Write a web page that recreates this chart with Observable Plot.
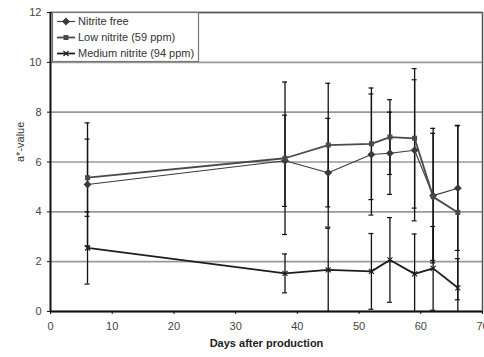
<!DOCTYPE html>
<html>
<head>
<meta charset="utf-8">
<script src="https://cdn.jsdelivr.net/npm/d3@7"></script>
<script src="https://cdn.jsdelivr.net/npm/@observablehq/plot@0.6"></script>
<style>
  html, body { margin: 0; padding: 0; background: #fff; }
  #chart { position: relative; width: 484px; height: 357px; }
</style>
</head>
<body>
<div id="chart"></div>
<script>
const days = [6, 38, 45, 52, 55, 59, 62, 66];
const seriesNames = ["Nitrite free", "Low nitrite (59 ppm)", "Medium nitrite (94 ppm)"];
const nitriteFree = [5.1, 6.05, 5.57, 6.3, 6.35, 6.47, 4.65, 4.95];
const nitriteFreeErr = [2.47, 1.83, 2.18, 2.43, 1.65, 2.83, 2.7, 2.5];
const lowNitrite = [5.37, 6.15, 6.68, 6.73, 7.0, 6.95, 4.6, 3.97];
const lowNitriteErr = [1.55, 3.06, 2.48, 2.24, 1.5, 2.8, 2.55, 3.5];
const mediumNitrite = [2.55, 1.53, 1.67, 1.61, 2.07, 1.51, 1.73, 0.95];
const mediumNitriteErr = [1.45, 0.78, 1.67, 1.52, 1.7, 1.6, 1.68, 1.17];
const xTicks = [0, 10, 20, 30, 40, 50, 60, 70];
const yTicks = [0, 2, 4, 6, 8, 10, 12];

const valuesList = [nitriteFree, lowNitrite, mediumNitrite];
const errList = [nitriteFreeErr, lowNitriteErr, mediumNitriteErr];
const rows = [];
seriesNames.forEach((s, si) => {
  days.forEach((d, i) => {
    rows.push({series: s, day: d, value: valuesList[si][i], err: errList[si][i]});
  });
});
const styleOf = {
  "Nitrite free": {stroke: "#3a3a3a", width: 1.1, symbol: "diamond2", r: 2.8},
  "Low nitrite (59 ppm)": {stroke: "#4a4a4a", width: 1.8, symbol: "square2", r: 2.4},
  "Medium nitrite (94 ppm)": {stroke: "#1e1e1e", width: 1.8, symbol: "times", r: 2.4}
};

const lineMarks = seriesNames.map(s => Plot.line(rows.filter(r => r.series === s), {
  x: "day", y: "value", stroke: styleOf[s].stroke, strokeWidth: styleOf[s].width, clip: true
}));
const dotMarks = seriesNames.map(s => Plot.dot(rows.filter(r => r.series === s), {
  x: "day", y: "value", symbol: styleOf[s].symbol, r: styleOf[s].r,
  fill: styleOf[s].stroke, stroke: styleOf[s].stroke, strokeWidth: 1.2
}));

const chart = Plot.plot({
  width: 484,
  height: 357,
  marginLeft: 50,
  marginRight: 2,
  marginTop: 12,
  marginBottom: 46,
  style: {fontFamily: "'Liberation Sans', Arial, sans-serif", fontSize: "11px", color: "#333", background: "#fff", overflow: "visible"},
  x: {domain: [0, 70], label: null},
  y: {domain: [0, 12], label: null},
  marks: [
    Plot.gridY(yTicks, {stroke: "#999", strokeOpacity: 1, strokeWidth: 1.6}),
    Plot.ruleY([12], {stroke: "#555", strokeWidth: 1.5}),
    Plot.ruleX([70], {stroke: "#555", strokeWidth: 1.5}),
    Plot.ruleX(rows, {x: "day", y1: d => d.value - d.err, y2: d => d.value + d.err, stroke: "#111", strokeWidth: 1.3, clip: true}),
    Plot.ruleY(rows, {x1: "day", x2: "day", y: d => d.value + d.err, insetLeft: -2.5, insetRight: -2.5, stroke: "#111", strokeWidth: 1.2, clip: true}),
    Plot.ruleY(rows, {x1: "day", x2: "day", y: d => d.value - d.err, insetLeft: -2.5, insetRight: -2.5, stroke: "#111", strokeWidth: 1.2, clip: true}),
    ...lineMarks,
    ...dotMarks,
    Plot.ruleX([0], {stroke: "#111", strokeWidth: 2}),
    Plot.ruleY([0], {stroke: "#111", strokeWidth: 2}),
    Plot.axisX(xTicks, {tickSize: 3, tickPadding: 8, stroke: "#111", fill: "#444", label: null}),
    Plot.axisY(yTicks, {tickSize: 3, tickPadding: 6, stroke: "#111", fill: "#444", label: null}),
    Plot.text(["Days after production"], {frameAnchor: "bottom", dy: 35, fontWeight: "bold", fill: "#222", fontSize: 11}),
    Plot.text(["a*-value"], {frameAnchor: "left", dx: -30, rotate: -90, fill: "#333", fontSize: 11})
  ]
});
document.getElementById("chart").appendChild(chart);

// Legend box drawn inside the plot frame (top-left)
const svg = d3.select(chart);
const lg = svg.append("g").attr("font-family", "'Liberation Sans', Arial, sans-serif")
  .attr("font-size", 11).attr("text-anchor", "start");
lg.append("rect").attr("x", 52.5).attr("y", 12.5).attr("width", 146).attr("height", 49)
  .attr("fill", "#fff").attr("stroke", "#777").attr("stroke-width", 1.2);
seriesNames.forEach((s, i) => {
  const y = 21.5 + i * 16;
  const st = styleOf[s];
  lg.append("line").attr("x1", 57).attr("x2", 75).attr("y1", y).attr("y2", y)
    .attr("stroke", st.stroke).attr("stroke-width", st.width);
  const sym = d3.symbol().type(st.symbol === "diamond2" ? d3.symbolDiamond2 : st.symbol === "square2" ? d3.symbolSquare2 : d3.symbolTimes)
    .size(st.r * st.r * Math.PI);
  lg.append("path").attr("d", sym()).attr("transform", `translate(66,${y})`)
    .attr("fill", st.stroke).attr("stroke", st.stroke).attr("stroke-width", 1.2);
  lg.append("text").attr("x", 78).attr("y", y).attr("dy", "0.35em")
    .attr("text-anchor", "start").attr("fill", "#333").text(s);
});
</script>
</body>
</html>
